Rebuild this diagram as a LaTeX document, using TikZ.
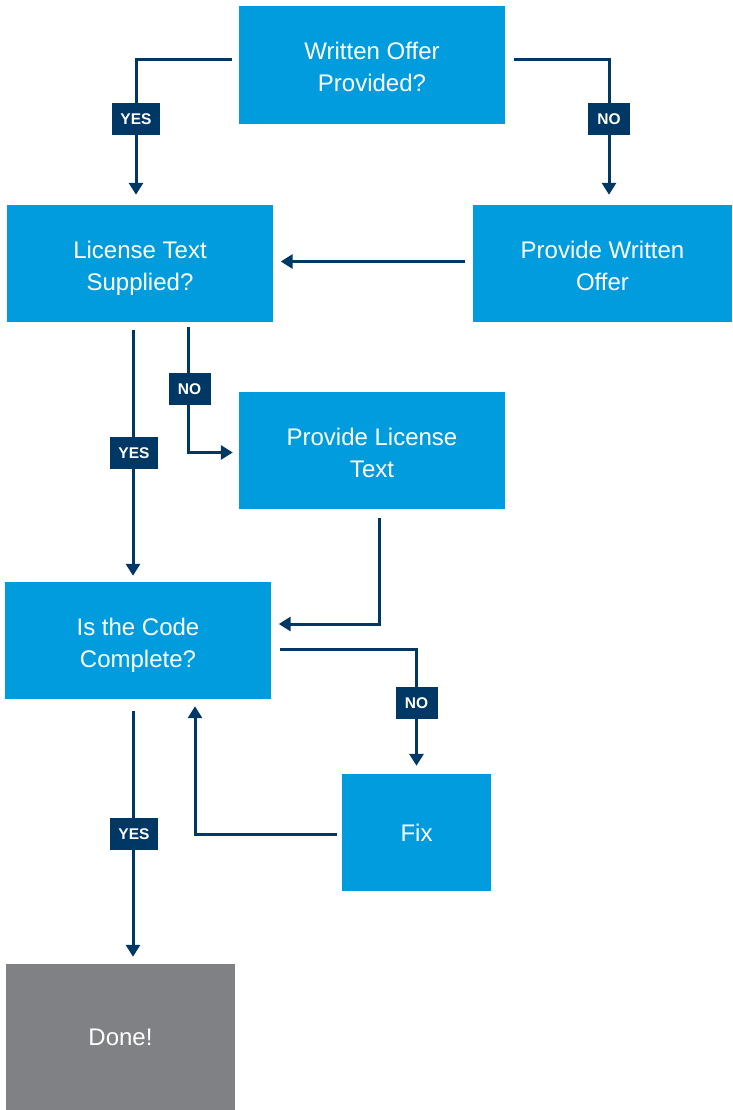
\documentclass[tikz,border=0pt]{standalone}
\usepackage{fontspec}
\setmainfont{Liberation Sans}
\usetikzlibrary{arrows.meta}
\definecolor{boxblue}{RGB}{0,156,222}
\definecolor{navy}{RGB}{0,56,101}
\definecolor{donegray}{RGB}{128,129,133}
% two-line caption with a fixed first-line height and last-line depth,
% so captions sit alike whether or not they have descenders
\newcommand\twolines[2]{\rule{0pt}{28pt}#1\\#2\rule[-6pt]{0pt}{0pt}}
\begin{document}
\begin{tikzpicture}[x=1pt,y=-1pt,
  box/.style={fill=boxblue, text=white, align=center, inner sep=0pt,
    font=\fontsize{24}{32}\selectfont},
  endbox/.style={box, fill=donegray},
  conn/.style={draw=navy, line width=3pt,
    -{Triangle[width=14pt,length=12pt]}},
  lab/.style={fill=navy, text=white, inner sep=0pt, minimum height=32pt,
    font=\bfseries\fontsize{15.5}{17}\selectfont},
  yeslab/.style={lab, minimum width=48pt},
  nolab/.style={lab, minimum width=42pt}]
\useasboundingbox (0,0) rectangle (732,1110);

% process and decision boxes
\node[box, minimum width=266pt, minimum height=118pt] (wo)  at (372,65)    {\twolines{Written Offer}{Provided?}};
\node[box, minimum width=266pt, minimum height=117pt] (lt)  at (140,263.5) {\twolines{License Text}{Supplied?}};
\node[box, minimum width=259pt, minimum height=117pt] (pwo) at (602.5,263.5) {\twolines{Provide Written}{Offer}};
\node[box, minimum width=266pt, minimum height=117pt] (plt) at (372,450.5) {\twolines{Provide License}{Text}};
\node[box, minimum width=266pt, minimum height=117pt] (cc)  at (138,640.5) {\twolines{Is the Code}{Complete?}};
\node[box, minimum width=149pt, minimum height=117pt] (fix) at (416.5,832.5) {Fix};
\node[endbox, minimum width=229pt, minimum height=146pt] (done) at (120.5,1037) {Done!};

% connectors
\draw[conn, shorten <=7pt, shorten >=10pt]
  ([yshift=5.5pt]wo.west) -| ([xshift=-4pt]lt.north);
\draw[conn, shorten <=9pt, shorten >=10pt]
  ([yshift=5.5pt]wo.east) -| ([xshift=6.5pt]pwo.north);
\draw[conn, shorten <=7.5pt, shorten >=7.5pt]
  ([yshift=2pt]pwo.west) -- ([yshift=2pt]lt.east);
\draw[conn, shorten <=7.5pt, shorten >=6pt]
  ([xshift=-7pt]lt.south) -- ([xshift=-7pt]lt.south |- cc.north);
\draw[conn, shorten <=5pt, shorten >=6pt]
  ([xshift=48.5pt]lt.south) |- ([yshift=-2pt]plt.west);
\draw[conn, shorten <=8.5pt, shorten >=7.5pt]
  ([xshift=7pt]plt.south) |- ([yshift=16.5pt]cc.east);
\draw[conn, shorten <=9pt, shorten >=8pt]
  ([yshift=-8.5pt]cc.east) -| (fix.north);
\draw[conn, shorten <=5pt, shorten >=7pt]
  ([yshift=-1.5pt]fix.west) -| ([xshift=57pt]cc.south);
\draw[conn, shorten <=11.5pt, shorten >=7pt]
  ([xshift=-5pt]cc.south) -- ([xshift=-5pt]cc.south |- done.north);

% branch labels
\node[yeslab] (y1) at (136,119)   {YES};
\node[nolab]  (n1) at (609,118.7) {NO};
\node[yeslab] (y2) at (134,452.7) {YES};
\node[nolab]  (n2) at (189.5,388.7) {NO};
\node[nolab]  (n3) at (416.5,702.7) {NO};
\node[yeslab] (y3) at (134,834)   {YES};
\end{tikzpicture}
\end{document}
